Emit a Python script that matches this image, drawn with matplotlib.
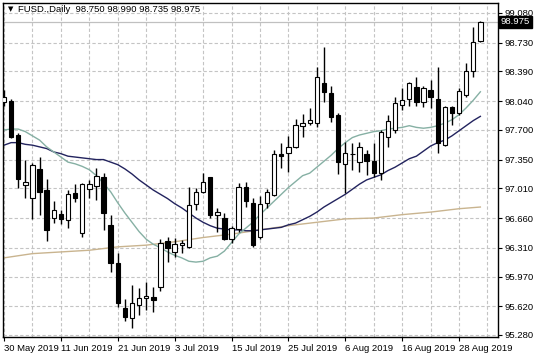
import matplotlib
matplotlib.use("Agg")
import matplotlib.pyplot as plt
import matplotlib.transforms as mtransforms

# -----------------------------
# DATA
# -----------------------------
opens = [98.03, 98.04, 97.64, 97.05, 96.90, 97.24, 96.99, 96.66, 96.71, 96.64,
         96.96, 96.48, 97.00, 97.04, 97.14, 96.58, 96.13, 95.60, 95.48, 95.63,
         95.72, 95.73, 95.85, 96.39, 96.26, 96.34, 96.32, 96.83, 96.97, 97.14,
         96.70, 96.66, 96.41, 96.53, 97.03, 96.84, 96.44, 96.84, 96.93, 97.41,
         97.43, 97.50, 97.75, 97.78, 97.78, 98.25, 98.14, 97.88, 97.30, 97.41,
         97.32, 97.42, 97.33, 97.19, 97.62, 97.70, 97.99, 98.07, 98.21, 98.03,
         98.17, 98.07, 97.52, 97.97, 97.90, 98.11, 98.40, 98.75]
highs = [98.17, 98.07, 97.66, 97.35, 97.31, 97.38, 97.12, 96.86, 96.76, 96.99,
         97.06, 97.07, 97.11, 97.25, 97.19, 96.70, 96.25, 95.71, 95.87, 95.84,
         95.91, 95.85, 96.41, 96.44, 96.43, 96.40, 97.03, 97.01, 97.19, 97.15,
         96.78, 96.72, 96.57, 97.07, 97.09, 96.90, 96.92, 97.00, 97.46, 97.55,
         97.63, 97.83, 97.89, 97.96, 98.44, 98.68, 98.22, 97.90, 97.56, 97.55,
         97.56, 97.46, 97.55, 97.70, 97.88, 98.09, 98.19, 98.26, 98.32, 98.22,
         98.29, 98.44, 97.98, 97.98, 98.19, 98.49, 98.91, 98.99]
lows = [97.98, 97.60, 97.01, 96.90, 96.65, 96.70, 96.39, 96.60, 96.59, 96.54,
        96.85, 96.44, 96.90, 96.87, 96.52, 96.02, 95.61, 95.45, 95.36, 95.52,
        95.58, 95.55, 95.80, 96.14, 96.20, 96.25, 96.31, 96.76, 96.96, 96.66,
        96.50, 96.40, 96.37, 96.50, 96.79, 96.32, 96.41, 96.78, 96.92, 97.25,
        97.20, 97.49, 97.62, 97.76, 97.73, 98.03, 97.79, 97.18, 96.96, 97.23,
        97.20, 97.17, 97.14, 97.11, 97.50, 97.66, 97.94, 97.98, 97.98, 97.97,
        97.96, 97.43, 97.51, 97.76, 97.88, 98.09, 98.32, 98.735]
closes = [98.09, 97.62, 97.12, 97.08, 97.29, 96.97, 96.52, 96.76, 96.65, 96.94,
          96.90, 97.06, 97.06, 97.16, 96.72, 96.13, 95.66, 95.49, 95.66, 95.72,
          95.74, 95.69, 96.37, 96.31, 96.35, 96.36, 96.81, 96.97, 97.09, 96.70,
          96.73, 96.41, 96.54, 97.03, 96.86, 96.34, 96.83, 96.97, 97.42, 97.39,
          97.50, 97.76, 97.78, 97.82, 98.32, 98.15, 97.85, 97.32, 97.43, 97.42,
          97.50, 97.33, 97.19, 97.68, 97.81, 98.02, 98.05, 98.25, 98.03, 98.20,
          98.09, 97.55, 97.97, 97.90, 98.16, 98.40, 98.74, 98.975]

# moving averages (one value per bar)
ma_fast = [97.70, 97.71, 97.71, 97.68, 97.63, 97.58, 97.50, 97.44, 97.38, 97.32,
           97.30, 97.27, 97.23, 97.16, 97.07, 96.97, 96.84, 96.72, 96.61, 96.50,
           96.41, 96.35, 96.31, 96.26, 96.22, 96.19, 96.15, 96.14, 96.15, 96.19,
           96.21, 96.27, 96.37, 96.47, 96.54, 96.61, 96.70, 96.78, 96.86, 96.94,
           97.02, 97.09, 97.16, 97.19, 97.26, 97.33, 97.40, 97.48, 97.55, 97.61,
           97.64, 97.66, 97.68, 97.69, 97.71, 97.72, 97.73, 97.75, 97.73, 97.72,
           97.73, 97.75, 97.78, 97.82, 97.88, 97.96, 98.05, 98.15]
ma_mid = [97.52, 97.55, 97.55, 97.53, 97.52, 97.50, 97.48, 97.44, 97.42, 97.39,
          97.38, 97.37, 97.36, 97.35, 97.35, 97.32, 97.29, 97.24, 97.18, 97.11,
          97.05, 96.99, 96.94, 96.89, 96.83, 96.78, 96.72, 96.66, 96.61, 96.57,
          96.54, 96.53, 96.52, 96.52, 96.51, 96.51, 96.52, 96.53, 96.54, 96.55,
          96.58, 96.60, 96.64, 96.68, 96.73, 96.79, 96.84, 96.89, 96.94, 97.00,
          97.06, 97.11, 97.14, 97.17, 97.22, 97.26, 97.31, 97.36, 97.39, 97.45,
          97.51, 97.55, 97.58, 97.63, 97.69, 97.75, 97.81, 97.86]
ma_slow_idx = [0, 4, 8, 12, 16, 20, 24, 28, 32, 36, 40, 44, 48, 52, 56, 60, 64, 67]
ma_slow = [96.19, 96.24, 96.26, 96.28, 96.32, 96.34, 96.38, 96.43, 96.47,
           96.52, 96.57, 96.61, 96.65, 96.66, 96.70, 96.73, 96.77, 96.79]

date_idx = [0, 8, 16, 24, 32, 40, 48, 56, 64]
date_labels = ["30 May 2019", "11 Jun 2019", "21 Jun 2019", "3 Jul 2019", "15 Jul 2019",
               "25 Jul 2019", "6 Aug 2019", "16 Aug 2019", "28 Aug 2019"]
price_ticks = [95.280, 95.620, 95.970, 96.310, 96.660, 97.010,
               97.350, 97.700, 98.040, 98.390, 98.730, 99.080]

# -----------------------------
# FIGURE
# -----------------------------
plt.rcParams['font.family'] = ['Liberation Sans', 'DejaVu Sans']

fig = plt.figure(figsize=(5.36, 3.58), dpi=100)
ax = fig.add_axes([3 / 536, 21 / 358, 495 / 536, 334 / 358])

n = len(opens)
x = list(range(n))

# grid
for gx in range(0, 72, 4):
    ax.axvline(gx, color="#c4c4c4", lw=0.8, ls=(0, (3, 2)), zorder=0)
for gy in price_ticks:
    ax.axhline(gy, color="#c4c4c4", lw=0.8, ls=(0, (3, 2)), zorder=0)

# current price line
ax.axhline(closes[-1], color="#c0c0c0", lw=0.9, zorder=1)

# moving averages
ax.plot(ma_slow_idx, ma_slow, color="#c9b48f", lw=1.0, zorder=2)
ax.plot(x, ma_mid, color="#22235e", lw=1.0, zorder=2)
ax.plot(x, ma_fast, color="#86b0a4", lw=1.0, zorder=2)

# candles
ax.vlines(x, lows, highs, color="black", lw=1.0, zorder=3)
bottoms = [min(o, c) for o, c in zip(opens, closes)]
heights = [max(abs(c - o), 0.004) for o, c in zip(opens, closes)]
colors = ["white" if c >= o else "black" for o, c in zip(opens, closes)]
ax.bar(x, heights, bottom=bottoms, width=0.62, color=colors,
       edgecolor="black", linewidth=0.8, zorder=4)

ax.set_xlim(-0.14, 69.48)
ax.set_ylim(95.256, 99.198)

# axes styling
for s in ax.spines.values():
    s.set_color("black")
    s.set_linewidth(1.0)

ax.yaxis.tick_right()
ax.set_yticks(price_ticks)
ax.set_yticklabels([f"{p:.3f}" for p in price_ticks])
ax.tick_params(axis="y", length=3, width=0.8, pad=1.5, labelsize=6.8, colors="black")

ax.set_xticks(date_idx)
ax.set_xticklabels(date_labels, ha="left")
ax.tick_params(axis="x", length=3, width=0.8, pad=2, labelsize=6.8)

# title
ax.text(5 / 495, 1 - 6 / 334, "\u25bc", transform=ax.transAxes, fontsize=5,
        va="center", ha="left", family=["DejaVu Sans"])
ax.text(15 / 495, 1 - 6 / 334, "FUSD.,Daily  98.750 98.990 98.735 98.975",
        transform=ax.transAxes, fontsize=6.8, va="center", ha="left")

# price tag on the right axis
trans = mtransforms.blended_transform_factory(ax.transAxes, ax.transData)
ax.text(1.006, closes[-1], f"{closes[-1]:.3f}", transform=trans, fontsize=6.8,
        color="white", va="center", ha="left", clip_on=False,
        bbox=dict(facecolor="black", edgecolor="black", pad=1.2))

fig.savefig("out.png", dpi=100)
